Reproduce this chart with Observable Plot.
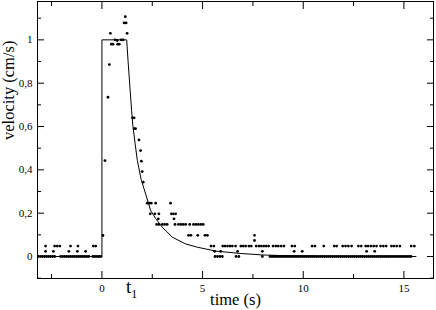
<!DOCTYPE html>
<html><head><meta charset="utf-8">
<script src="https://cdn.jsdelivr.net/npm/d3@7"></script>
<script src="https://cdn.jsdelivr.net/npm/@observablehq/plot@0.6"></script>
<style>html,body{margin:0;padding:0;background:#fff}
#chart svg, #chart svg text{font-family:"Liberation Serif","Times New Roman",serif !important}</style>
</head><body><div id="chart"></div>
<script>
// ---- data ----
const transientTime = [0.05, 0.15, 0.3, 0.37, 0.42, 0.47, 0.55, 0.65, 0.76, 0.78, 0.86, 0.95, 1.05, 1.1, 1.16, 1.2, 1.25, 1.52, 1.6, 1.6, 1.67, 1.84, 1.92, 1.96, 2.0, 2.05];
const transientVel  = [0.097, 0.443, 0.735, 0.886, 1.03, 0.98, 0.98, 1.0, 0.997, 0.98, 0.98, 1.0, 1.0, 1.078, 1.107, 1.078, 1.03, 0.64, 0.64, 0.59, 0.59, 0.538, 0.489, 0.44, 0.392, 0.343];

const rowLevels = [0, 0.024, 0.048, 0.074, 0.098, 0.148, 0.174, 0.197, 0.246];
const rowTimes = [
  [-3.15, -3.05, -2.95, -2.85, -2.75, -2.65, -2.55, -2.45, -2.35, -2.05, -1.95, -1.85, -1.75, -1.65, -1.55, -1.45, -1.35, -1.25, -1.15, -1.05, -0.95, -0.85, -0.75, -0.65, -0.45, -0.35, -0.25, -0.15, -0.05,
   5.62, 5.74, 5.86, 5.98, 6.66, 6.8, 7.97,
   8.35, 8.45, 8.55, 8.65, 8.75, 8.85, 8.95, 9.05, 9.15, 9.25, 9.35, 9.45, 9.55, 9.65, 9.75, 9.85, 9.95, 10.05, 10.15, 10.25, 10.35, 10.45, 10.55, 10.65, 10.75, 10.85, 10.95, 11.05, 11.15, 11.25, 11.35, 11.45, 11.55, 11.65, 11.75, 11.85, 11.95, 12.05, 12.15, 12.25, 12.35, 12.45, 12.55, 12.65, 12.75, 12.85, 12.95, 13.05, 13.15, 13.25, 13.35, 13.45, 13.55, 13.65, 13.75, 13.85, 13.95, 14.05, 14.15, 14.25, 14.35, 14.45, 14.55, 14.65, 14.75, 14.85, 14.95, 15.05, 15.15, 15.25, 15.35],
  [-2.8, -2.41, -1.64, -1.22, -0.81, 5.6, 5.9, 6.74, 7.97, 9.55, 9.95, 13.15, 13.55],
  [-2.8, -2.35, -2.22, -2.09, -1.56, -1.19, -0.43, -0.31, 5.42, 5.56, 6.0, 6.12, 6.24, 6.36, 6.48, 6.64, 6.9, 7.02, 7.14, 7.3, 7.42, 7.66, 7.8, 7.92, 8.04, 8.16, 8.28, 8.5, 8.64, 8.76, 8.9, 9.04, 9.44, 9.58, 10.44, 10.58, 11.02, 11.54, 11.66, 11.96, 12.1, 12.24, 12.4, 12.74, 12.88, 13.1, 13.22, 13.36, 13.5, 13.64, 13.84, 13.98, 14.12, 14.38, 14.5, 14.64, 14.8, 15.36, 15.52],
  [7.58],
  [4.3, 4.42, 4.76, 5.12, 5.24, 7.58],
  [2.72, 2.84, 3.0, 3.12, 3.24, 3.63, 3.8, 3.92, 4.04, 4.16, 4.36, 4.55, 4.67, 4.79, 4.91, 5.03],
  [2.8, 3.58],
  [2.4, 2.63, 2.83, 3.45, 3.55, 3.66],
  [2.25, 2.35, 2.45, 2.67, 3.41]
];

const curveTime = [-3.2, 0, 0, 1.23, 1.3, 1.4, 1.475, 1.53, 1.65, 1.76, 1.95, 2.17, 2.42, 2.67, 3.0, 3.5, 4.16, 4.74, 5.65, 6.9, 8.0, 9.5, 11, 13, 15.6];
const curveVel  = [0, 0, 1, 1, 0.9, 0.77, 0.674, 0.61, 0.52, 0.443, 0.355, 0.289, 0.212, 0.175, 0.135, 0.089, 0.058, 0.043, 0.025, 0.014, 0.007, 0.003, 0.001, 0, 0];

const t1 = 1.23;
const xMajorTicks = [0, 5, 10, 15];
const xMinorTicks = [-2.5, 2.5, 7.5, 12.5];
const yMajorTicks = [0, 0.2, 0.4, 0.6, 0.8, 1];
const yTickLabels = ["0", "0,2", "0,4", "0,6", "0,8", "1"];
const yMinorTicks = [-0.1, 0.1, 0.3, 0.5, 0.7, 0.9, 1.1];

// ---- tables ----
const points = transientTime.map((t, i) => ({t, v: transientVel[i]}));
rowTimes.forEach((ts, k) => ts.forEach(t => points.push({t, v: rowLevels[k]})));
const curve = curveTime.map((t, i) => ({t, v: curveVel[i]}));

const serif = "Liberation Serif";
const tickMarks = (ticks, len) => [
  Plot.axisX({anchor: "bottom", ticks, tickSize: len, dy: -len, tickFormat: () => "", label: null}),
  Plot.axisX({anchor: "top", ticks, tickSize: len, dy: len, tickFormat: () => "", label: null})
];
const tickMarksY = (ticks, len) => [
  Plot.axisY({anchor: "left", ticks, tickSize: len, dx: len, tickFormat: () => "", label: null}),
  Plot.axisY({anchor: "right", ticks, tickSize: len, dx: -len, tickFormat: () => "", label: null})
];

const chart = Plot.plot({
  width: 436, height: 310,
  marginLeft: 37, marginRight: 3, marginTop: 1, marginBottom: 32,
  x: {domain: [-3.2, 16.47]},
  y: {domain: [-0.1015, 1.177]},
  style: {fontFamily: serif, fontSize: "11px", background: "white", color: "black"},
  marks: [
    Plot.line(curve, {x: "t", y: "v", stroke: "black", strokeWidth: 1}),
    Plot.dot(points, {x: "t", y: "v", r: 1.4, fill: "black", stroke: null}),
    Plot.frame({stroke: "black", strokeWidth: 1}),
    ...tickMarks(xMajorTicks, 7), ...tickMarks(xMinorTicks, 4),
    ...tickMarksY(yMajorTicks, 7), ...tickMarksY(yMinorTicks, 4),
    Plot.axisX({anchor: "bottom", ticks: xMajorTicks, tickSize: 0, tickPadding: 6, label: null, fontSize: 11, fontFamily: serif}),
    Plot.axisY({anchor: "left", ticks: yMajorTicks, tickSize: 0, tickPadding: 5, label: null, fontSize: 11, fontFamily: serif,
      tickFormat: d => yTickLabels[yMajorTicks.indexOf(d)]}),
    Plot.text(["velocity (cm/s)"], {frameAnchor: "left", rotate: -90, dx: -29, fontSize: 16.5, fontFamily: serif, text: d => d}),
    Plot.text(["time (s)"], {frameAnchor: "bottom", lineAnchor: "bottom", dy: 26, fontSize: 16.5, fontFamily: serif, text: d => d}),
    Plot.text([t1], {x: d => d, frameAnchor: "bottom", lineAnchor: "bottom", dx: 2, dy: 14, fontSize: 19, fontFamily: serif, text: () => "t"}),
    Plot.text([t1], {x: d => d, frameAnchor: "bottom", lineAnchor: "bottom", dx: 7.5, dy: 19, fontSize: 12, fontFamily: serif, text: () => "1"})
  ]
});
document.getElementById("chart").appendChild(chart);
</script>
</body></html>
